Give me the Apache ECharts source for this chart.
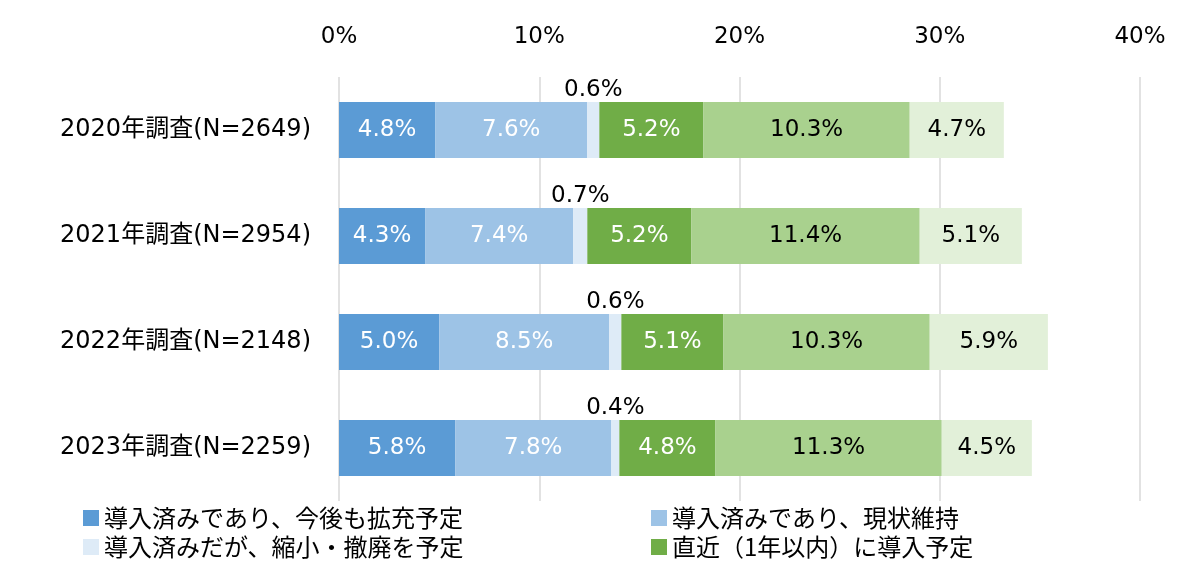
<!DOCTYPE html>
<html lang="ja" style="height:100%">
<head>
    <meta charset="UTF-8">
    <title>導入状況</title>
</head>
<body style="height: 100%; margin: 0; background: #fff">
<div id="container" style="width:1200px; height:584px"></div>
<script type="text/javascript" src="https://cdn.jsdelivr.net/npm/echarts@6/dist/echarts.min.js"></script>
<script type="text/javascript">
    var categories = ['2020年調査(N=2649)', '2021年調査(N=2954)', '2022年調査(N=2148)', '2023年調査(N=2259)'];
    var seriesNames = ['導入済みであり、今後も拡充予定', '導入済みであり、現状維持', '導入済みだが、縮小・撤廃を予定', '直近（1年以内）に導入予定', '導入を検討中', '関心はある'];
    var expandData = [4.8, 4.3, 5.0, 5.8];
    var keepData = [7.6, 7.4, 8.5, 7.8];
    var shrinkData = [0.6, 0.7, 0.6, 0.4];
    var soonData = [5.2, 5.2, 5.1, 4.8];
    var considerData = [10.3, 11.4, 10.3, 11.3];
    var interestData = [4.7, 5.1, 5.9, 4.5];
    var colors = ['#5b9bd5', '#9dc3e6', '#deebf7', '#70ad47', '#a9d18e', '#e2f0d9'];
    var labelColors = ['#fff', '#fff', '#000', '#fff', '#000', '#000'];

    var font = '"DejaVu Sans", "Noto Sans CJK JP", sans-serif';
    var cjkFont = '"Noto Sans CJK JP", sans-serif';
    var dom = document.getElementById('container');
    var myChart = echarts.init(dom);

    var allData = [expandData, keepData, shrinkData, soonData, considerData, interestData];
    var series = [];
    for (var i = 0; i < allData.length; i++) {
        series.push({
            name: seriesNames[i],
            type: 'bar',
            stack: 'total',
            barWidth: 56,
            data: allData[i],
            itemStyle: { color: colors[i] },
            label: {
                show: true,
                position: i === 2 ? 'top' : 'inside',
                distance: 0,
                color: labelColors[i],
                fontSize: 23,
                fontFamily: font,
                formatter: function (p) { return p.value.toFixed(1) + '%'; }
            }
        });
    }

    var legendText = { fontSize: 24, fontFamily: cjkFont, color: '#000', lineHeight: 26 };
    var option = {
        animation: false,
        backgroundColor: '#fff',
        grid: { left: 339, right: 60, top: 77, bottom: 83 },
        legend: [{
            left: 83, top: 505, orient: 'vertical', itemGap: 3, padding: 0,
            icon: 'rect', itemWidth: 16, itemHeight: 16,
            textStyle: legendText,
            data: [seriesNames[0], seriesNames[2]]
        }, {
            left: 651, top: 505, orient: 'vertical', itemGap: 3, padding: 0,
            icon: 'rect', itemWidth: 16, itemHeight: 16,
            textStyle: legendText,
            data: [seriesNames[1], seriesNames[3]]
        }],
        xAxis: {
            type: 'value',
            position: 'top',
            min: 0, max: 40, interval: 10,
            axisLine: { show: false },
            axisTick: { show: false },
            splitLine: { lineStyle: { color: '#d9d9d9', width: 1.5 } },
            axisLabel: {
                formatter: '{value}%', fontSize: 23, fontFamily: font, color: '#000', margin: 28
            }
        },
        yAxis: {
            type: 'category',
            inverse: true,
            data: categories,
            axisLine: { show: false },
            axisTick: { show: false },
            axisLabel: { fontSize: 24, fontFamily: font, color: '#000', margin: 28 }
        },
        series: series
    };
    myChart.setOption(option, true);
</script>
</body>
</html>
